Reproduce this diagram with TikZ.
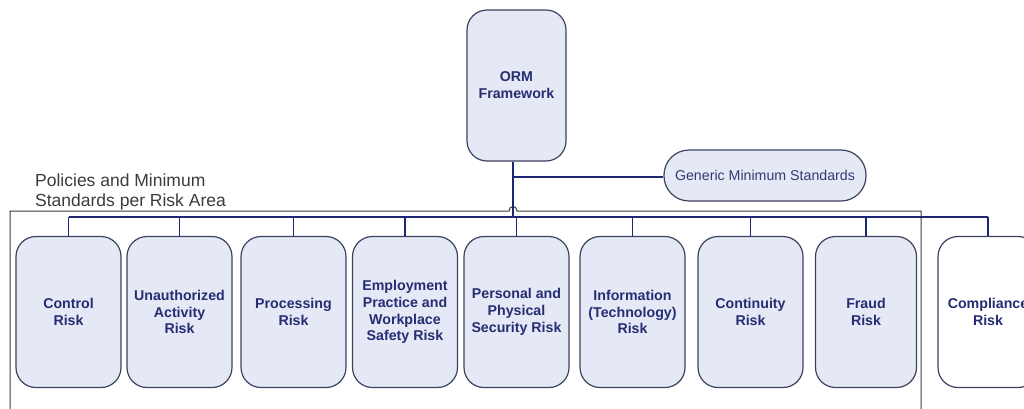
\documentclass[tikz,border=0pt]{standalone}
\usepackage{fontspec}
\setmainfont{Liberation Sans}
\definecolor{boxfill}{HTML}{E4E9F5}
\definecolor{boxdraw}{HTML}{3E4260}
\definecolor{boxtext}{HTML}{262D72}
\definecolor{linecol}{HTML}{1E2672}
\definecolor{framecol}{HTML}{3A3C44}
\definecolor{labtext}{HTML}{3C3C3C}
\begin{document}
\begin{tikzpicture}[x=1pt,y=-1pt]
\tikzset{
  riskbox/.style={draw=boxdraw, fill=boxfill, line width=1.2pt, rounded corners=20pt,
    minimum width=105pt, minimum height=151pt, inner sep=0pt, align=center,
    text=boxtext, font=\bfseries\fontsize{14.2}{16.8}\selectfont},
  conn/.style={draw=linecol, line width=1.5pt},
  framestyle/.style={draw=framecol, line width=1pt}
}
\useasboundingbox (0,0) rectangle (1024,408);
\fill[white] (0,0) rectangle (1024,408);

% top node
\node[riskbox, minimum width=99pt] (orm) at (516.5,85.5) {ORM\\Framework};
\node[draw=boxdraw, fill=boxfill, line width=1.2pt, rounded corners=25pt,
  minimum width=202pt, minimum height=51pt, inner sep=0pt, text=boxtext!85!gray,
  font=\fontsize{14.2}{16}\selectfont] (gms) at (765,175.5) {Generic Minimum Standards};

% label
\node[anchor=north west, align=left, inner sep=0pt, text=labtext,
  font=\fontsize{17.5}{20}\selectfont] (lab) at (35,174) {Policies and Minimum\\Standards per Risk Area};

% frame with line hop
\draw[framestyle] (10,412) -- (10,211) -- (509,211) .. controls (509,205) and (517,205) .. (517,211) -- (921,211) -- (921,412);

% risk boxes
\node[riskbox] (r1) at (68.5,312) {Control\\Risk};
\node[riskbox] (r2) at (179.5,312) {Unauthorized\\Activity\\Risk};
\node[riskbox] (r3) at (293.5,312) {Processing\\Risk};
\node[riskbox] (r4) at (405,312) {Employment\\Practice and\\Workplace\\Safety Risk};
\node[riskbox] (r5) at (516.5,312) {Personal and\\Physical\\Security Risk};
\node[riskbox] (r6) at (632.5,312) {Information\\(Technology)\\Risk};
\node[riskbox] (r7) at (750.5,312) {Continuity\\Risk};
\node[riskbox, minimum width=101pt] (r8) at (866,312) {Fraud\\Risk};
\node[riskbox, fill=white, minimum width=100pt] (r9) at (988,312) {Compliance\\Risk};

% connectors
\coordinate (busL) at (68.5,217);
\coordinate (busR) at (988,217);
\coordinate (hub) at (513,217);
\coordinate (gmsj) at (513,177);
\draw[conn] (orm.south -| hub) -- (hub);
\draw[conn] (gmsj) -- (gms.west |- gmsj);
\draw[conn] (busL) -- (busR);
\foreach \n in {r1,r2,r3,r4,r5,r6,r7,r8,r9}{
  \draw[conn] (\n.north) -- (\n.north |- busL);
}
\end{tikzpicture}
\end{document}
